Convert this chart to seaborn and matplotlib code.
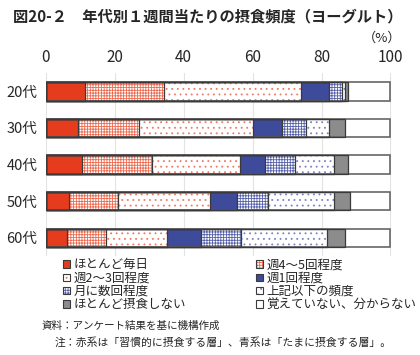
import numpy as np
import pandas as pd
import matplotlib
matplotlib.use("Agg")
import matplotlib.pyplot as plt
import matplotlib.patches as mpatches
import seaborn as sns

ages = ["20代", "30代", "40代", "50代", "60代"]
categories = ["ほとんど毎日", "週4～5回程度", "週2～3回程度", "週1回程度",
              "月に数回程度", "上記以下の頻度", "ほとんど摂食しない", "覚えていない、分からない"]
# 各年代の割合 (%)
daily = [11.4, 9.4, 10.6, 6.8, 6.1]
week45 = [22.8, 17.6, 20.2, 14.2, 11.5]
week23 = [39.9, 33.0, 25.6, 26.7, 17.7]
week1 = [8.2, 8.6, 7.2, 7.9, 9.7]
month = [3.6, 6.9, 8.6, 9.0, 11.5]
less = [0.8, 6.7, 11.3, 19.0, 25.2]
never = [0.9, 4.6, 4.1, 4.7, 5.1]
unknown = [12.4, 13.2, 12.4, 11.7, 13.2]

series = [daily, week45, week23, week1, month, less, never, unknown]
red = "#E63C1E"
blue = "#3E4A9A"
# (塗り, ハッチ色, ハッチ)
styles = [(red, red, None), ("white", "#EE6A50", "++++++"), ("white", "#EE7A66", "..."),
          (blue, blue, None), ("white", "#5560A8", "++++++"), ("white", "#7A84C0", "..."),
          ("#8C8C8C", "#8C8C8C", None), ("white", "white", None)]

sns.set_style("white")
plt.rcParams['font.family'] = ['Noto Sans CJK JP', 'DejaVu Sans']
plt.rcParams['hatch.linewidth'] = 0.6

fig = plt.figure(figsize=(4.2, 3.55), dpi=100)
ax = fig.add_axes([0.109, 0.279, 0.824, 0.515])

cum = np.cumsum(np.array(series), axis=0)
cum[-1] = 100.0
edge = "#3A3A3A"
handles = []
for i in range(len(series) - 1, -1, -1):
    fc, hc, hatch = styles[i]
    df = pd.DataFrame({"age": ages, "value": cum[i]})
    sns.barplot(data=df, x="value", y="age", order=ages, orient="h", ax=ax,
                color=fc, saturation=1, width=0.5, errorbar=None,
                edgecolor=hc, linewidth=0, hatch=hatch, zorder=2)
    sns.barplot(data=df, x="value", y="age", order=ages, orient="h", ax=ax,
                fill=False, width=0.5, errorbar=None, saturation=1,
                edgecolor=edge if i < len(series) - 1 else "#666666",
                linewidth=0.9 if i < len(series) - 1 else 1.2, zorder=3)
for i in range(len(series)):
    fc, hc, hatch = styles[i]
    h = (mpatches.Patch(facecolor=fc, edgecolor=hc, hatch=hatch, linewidth=0),
         mpatches.Patch(fill=False, edgecolor=edge, linewidth=0.8))
    handles.append(h)

ax.set_xlim(0, 100.4)
ax.set_xticks([0, 20, 40, 60, 80, 100])
ax.xaxis.tick_top()
ax.tick_params(axis="x", length=0, labelsize=11, pad=5)
ax.tick_params(axis="y", length=0, labelsize=10.5, pad=6)
ax.set_xlabel("")
ax.set_ylabel("")
ax.grid(axis="x", color="#E3E3E3", linewidth=0.8, zorder=0)
ax.set_axisbelow(True)
for s in ax.spines.values():
    s.set_visible(False)

fig.text(0.03, 0.955, "図20-２　年代別１週間当たりの摂食頻度（ヨーグルト）",
         fontsize=11, fontweight="bold", va="center")
fig.text(0.955, 0.893, "（%）", fontsize=9.5, ha="right", va="center")

order = [0, 2, 4, 6, 1, 3, 5, 7]
fig.legend([handles[k] for k in order], [categories[k] for k in order],
           ncol=2, loc="upper left", bbox_to_anchor=(0.15, 0.272),
           frameon=False, fontsize=9, handlelength=0.55, handleheight=0.55,
           handletextpad=0.3, columnspacing=5.6, labelspacing=0.02,
           borderpad=0, borderaxespad=0)

fig.text(0.1, 0.082, "資料：アンケート結果を基に機構作成", fontsize=7.6, va="center")
fig.text(0.13, 0.035, "注：赤系は「習慣的に摂食する層」、青系は「たまに摂食する層」。",
         fontsize=7.8, va="center")

fig.savefig("out.png", dpi=100)
